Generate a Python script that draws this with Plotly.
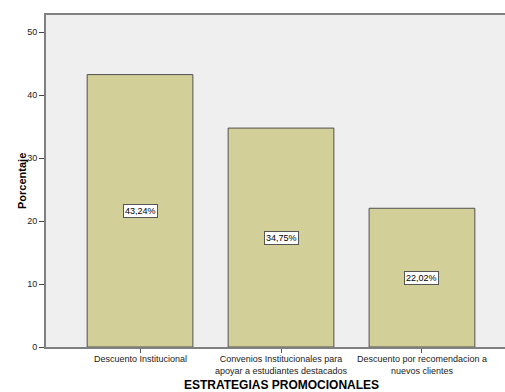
import plotly.graph_objects as go

categories = [
    "Descuento Institucional",
    "Convenios Institucionales para<br>apoyar a estudiantes destacados",
    "Descuento por recomendacion a<br>nuevos clientes",
]
values = [43.24, 34.75, 22.02]
value_labels = ["43,24%", "34,75%", "22,02%"]
y_ticks = [0, 10, 20, 30, 40, 50]

FONT = "Liberation Sans, Arial, sans-serif"
xs = list(range(len(categories)))

fig = go.Figure()
fig.add_trace(go.Bar(
    x=xs, y=values, width=0.75,
    marker=dict(color="#D3CF98", line=dict(color="#505050", width=1)),
    hoverinfo="skip",
))

# value labels in white boxes at the middle of each bar
for x, v, lab in zip(xs, values, value_labels):
    fig.add_annotation(
        x=x, y=v / 2, text=lab, showarrow=False,
        font=dict(family=FONT, size=9, color="#000"),
        bgcolor="white", bordercolor="#555", borderwidth=1, borderpad=1,
    )

# category labels under the axis
for x, c in zip(xs, categories):
    fig.add_annotation(
        x=x, y=0, yref="y", yshift=-5, yanchor="top", text=c, showarrow=False,
        font=dict(family=FONT, size=9, color="#222"),
        align="center",
    )

fig.add_annotation(
    x=1, xref="x", y=0, yref="paper", yshift=-29, yanchor="top",
    text="<b>ESTRATEGIAS PROMOCIONALES</b>", showarrow=False,
    font=dict(family=FONT, size=12, color="#000"),
)
fig.add_annotation(
    x=0, xref="paper", xshift=-32, y=0.5, yref="paper",
    text="<b>Porcentaje</b>", textangle=-90, showarrow=False,
    font=dict(family=FONT, size=11, color="#000"),
)

fig.update_layout(
    width=505, height=392,
    margin=dict(l=46, r=0, t=15, b=45),
    paper_bgcolor="white", plot_bgcolor="#EFEFEF",
    showlegend=False,
    xaxis=dict(
        range=[-0.667, 2.589], tickvals=xs, ticktext=["", "", ""],
        ticks="outside", ticklen=4, tickcolor="#555", tickwidth=1,
        showgrid=False, zeroline=False,
        showline=True, linecolor="#808080", linewidth=2, mirror=True,
        fixedrange=True,
    ),
    yaxis=dict(
        range=[0, 52.7], tickvals=y_ticks,
        ticks="outside", ticklen=5, tickcolor="#444", tickwidth=1,
        tickfont=dict(family=FONT, size=9, color="#222"),
        showgrid=False, zeroline=False,
        showline=True, linecolor="#808080", linewidth=2,
        fixedrange=True,
    ),
)

fig.write_html("out.html")
